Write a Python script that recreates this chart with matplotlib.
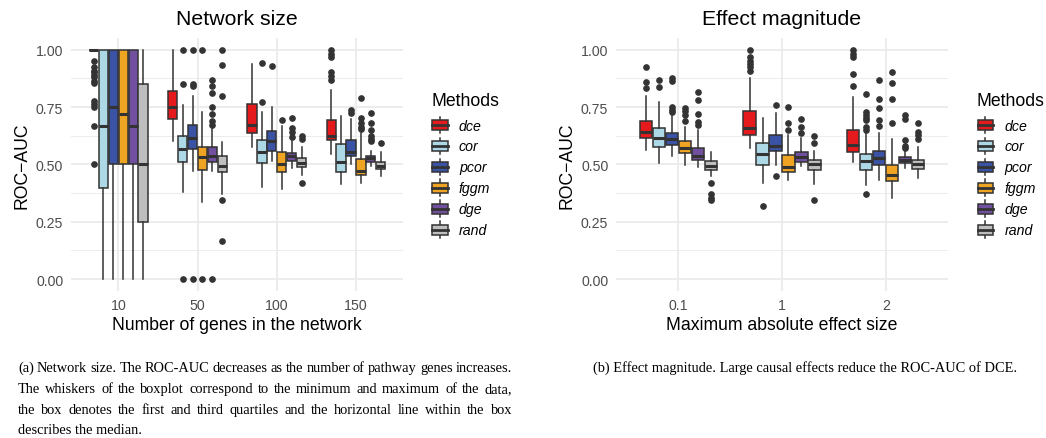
import matplotlib
matplotlib.use('Agg')
import matplotlib.pyplot as plt
from matplotlib.patches import Patch, Rectangle
from matplotlib.lines import Line2D
from matplotlib.legend_handler import HandlerBase

plt.rcParams['font.family'] = ['Liberation Sans', 'DejaVu Sans']

methods = ['dce', 'cor', 'pcor', 'fggm', 'dge', 'rand']
colors = ['#E41A1C', '#ADD8E6', '#3A53A4', '#EFA523', '#7150A0', '#BEBEBE']

# network size panel: (whislo, q1, median, q3, whishi) per group
size_groups = ['10', '50', '100', '150']
size_boxes = {
    'dce':  [(1.0, 1.0, 1.0, 1.0, 1.0), (0.603, 0.698, 0.749, 0.821, 1.0),
             (0.574, 0.635, 0.672, 0.763, 0.938), (0.545, 0.608, 0.625, 0.693, 0.826)],
    'cor':  [(0.0, 0.396, 0.666, 1.0, 1.0), (0.381, 0.509, 0.567, 0.622, 0.759),
             (0.40, 0.506, 0.552, 0.608, 0.73), (0.414, 0.465, 0.509, 0.589, 0.712)],
    'pcor': [(0.0, 0.5, 0.75, 1.0, 1.0), (0.47, 0.567, 0.615, 0.672, 0.80),
             (0.516, 0.56, 0.603, 0.647, 0.749), (0.501, 0.538, 0.555, 0.608, 0.698)],
    'fggm': [(0.0, 0.5, 0.718, 1.0, 1.0), (0.337, 0.475, 0.531, 0.574, 0.727),
             (0.392, 0.465, 0.501, 0.552, 0.666), (0.42, 0.454, 0.472, 0.523, 0.635)],
    'dge':  [(0.0, 0.5, 0.666, 1.0, 1.0), (0.472, 0.512, 0.538, 0.574, 0.657),
             (0.484, 0.516, 0.535, 0.549, 0.603), (0.491, 0.509, 0.528, 0.535, 0.56)],
    'rand': [(0.0, 0.25, 0.5, 0.85, 1.0), (0.371, 0.468, 0.491, 0.535, 0.599),
             (0.455, 0.487, 0.506, 0.526, 0.574), (0.448, 0.48, 0.494, 0.512, 0.552)],
}
size_fliers = {
    'dce':  [[0.95, 0.923, 0.909, 0.901, 0.89, 0.88, 0.865, 0.853, 0.778, 0.763, 0.749, 0.666, 0.5],
             [], [], [1.0, 0.981, 0.967, 0.901, 0.887, 0.869]],
    'cor':  [[], [1.0, 0.85, 0.0], [0.94, 0.771], []],
    'pcor': [[], [1.0, 0.85, 0.84, 0.0], [0.93], [0.738, 0.724]],
    'fggm': [[], [1.0, 0.0], [0.695], [0.788, 0.70, 0.68, 0.665, 0.655]],
    'dge':  [[], [0.869, 0.84, 0.811, 0.752, 0.72, 0.69, 0.672, 0.0],
             [0.702, 0.657, 0.642, 0.618], [0.722, 0.68, 0.651, 0.625, 0.61, 0.60]],
    'rand': [[], [1.0, 0.933, 0.80, 0.345, 0.166], [0.622, 0.61, 0.42], [0.592]],
}

# effect magnitude panel
effect_groups = ['0.1', '1', '2']
effect_boxes = {
    'dce':  [(0.564, 0.614, 0.642, 0.688, 0.797), (0.570, 0.629, 0.657, 0.734, 0.875),
             (0.509, 0.555, 0.584, 0.651, 0.795)],
    'cor':  [(0.505, 0.577, 0.614, 0.657, 0.771), (0.417, 0.497, 0.545, 0.592, 0.70),
             (0.411, 0.477, 0.516, 0.545, 0.637)],
    'pcor': [(0.535, 0.584, 0.611, 0.637, 0.72), (0.498, 0.56, 0.581, 0.628, 0.724),
             (0.433, 0.497, 0.526, 0.56, 0.635)],
    'fggm': [(0.498, 0.548, 0.571, 0.60, 0.661), (0.433, 0.468, 0.487, 0.541, 0.628),
             (0.352, 0.429, 0.454, 0.498, 0.611)],
    'dge':  [(0.49, 0.52, 0.535, 0.571, 0.651), (0.491, 0.509, 0.531, 0.552, 0.615),
             (0.483, 0.505, 0.52, 0.531, 0.56)],
    'rand': [(0.448, 0.475, 0.494, 0.513, 0.552), (0.414, 0.477, 0.501, 0.52, 0.56),
             (0.439, 0.48, 0.501, 0.52, 0.574)],
}
effect_fliers = {
    'dce':  [[0.923, 0.861, 0.833], [1.0, 0.967, 0.952, 0.938, 0.923, 0.906],
             [1.0, 0.981, 0.967, 0.894, 0.843]],
    'cor':  [[0.868, 0.839], [0.32], [0.807, 0.727, 0.715, 0.70, 0.693, 0.661, 0.651, 0.371]],
    'pcor': [[0.875, 0.865, 0.75, 0.735, 0.73], [0.76, 0.448], [0.869, 0.785, 0.744, 0.695, 0.669]],
    'fggm': [[0.746, 0.731, 0.715, 0.69], [0.751, 0.679, 0.651], [0.904, 0.855, 0.785, 0.68]],
    'dge':  [[0.814, 0.782, 0.72, 0.683, 0.672], [0.698, 0.664, 0.637],
             [0.715, 0.698, 0.608, 0.581, 0.571]],
    'rand': [[0.417, 0.37, 0.355, 0.345], [0.625, 0.593, 0.345], [0.679, 0.64, 0.628, 0.611]],
}

caption_a = [
    "(a) Network size. The ROC-AUC decreases as the number of pathway genes increases.",
    "The whiskers of the boxplot correspond to the minimum and maximum of the data,",
    "the box denotes the first and third quartiles and the horizontal line within the box",
    "describes the median.",
]
caption_b = "(b) Effect magnitude. Large causal effects reduce the ROC-AUC of DCE."

EDGE = '#333333'
GRID = '#EBEBEB'
W, H = 1046, 439


class BoxKey(HandlerBase):
    # ggplot-like boxplot legend key, sized from the key width
    def create_artists(self, legend, orig, xd, yd, w, h, fs, trans):
        x0, y0 = -xd, -yd
        yc = y0 + h / 2
        fc = orig.get_facecolor()
        lo = Line2D([x0 + w / 2] * 2, [yc - 0.4 * w, yc - 0.25 * w], color=EDGE, lw=1.1, transform=trans)
        hi = Line2D([x0 + w / 2] * 2, [yc + 0.25 * w, yc + 0.4 * w], color=EDGE, lw=1.1, transform=trans)
        box = Rectangle((x0 + 0.125 * w, yc - 0.25 * w), 0.75 * w, 0.5 * w,
                        facecolor=fc, edgecolor=EDGE, lw=1.1, transform=trans)
        med = Line2D([x0 + 0.125 * w, x0 + 0.875 * w], [yc] * 2,
                     color=EDGE, lw=2.0, transform=trans)
        return [lo, hi, box, med]


def draw_panel(ax, groups, boxes, fliers, title, xlabel):
    n = len(groups)
    for i, m in enumerate(methods):
        stats = []
        for g in range(n):
            lo, q1, med, q3, hi = boxes[m][g]
            stats.append(dict(whislo=lo, q1=q1, med=med, q3=q3, whishi=hi, fliers=fliers[m][g]))
        pos = [g + 1 + (i - 2.5) * 0.125 for g in range(n)]
        ax.bxp(stats, positions=pos, widths=0.118, patch_artist=True, showcaps=False,
               boxprops=dict(facecolor=colors[i], edgecolor=EDGE, linewidth=1.1),
               whiskerprops=dict(color=EDGE, linewidth=1.1),
               medianprops=dict(color=EDGE, linewidth=2.2),
               flierprops=dict(marker='o', markerfacecolor=EDGE, markeredgecolor=EDGE,
                               markersize=3.8, linestyle='none'),
               manage_ticks=False)
    ax.set_xlim(0.4, n + 0.6)
    ax.set_ylim(-0.05, 1.05)
    ax.set_xticks(range(1, n + 1), groups)
    ax.set_yticks([0, 0.25, 0.5, 0.75, 1.0], ['0.00', '0.25', '0.50', '0.75', '1.00'])
    ax.set_yticks([0.125, 0.375, 0.625, 0.875], minor=True)
    ax.grid(which='major', color=GRID, lw=1.3)
    ax.grid(which='minor', axis='y', color=GRID, lw=0.65)
    ax.set_axisbelow(True)
    for s in ax.spines.values():
        s.set_visible(False)
    ax.tick_params(which='both', length=0, labelsize=10.2, labelcolor='#4D4D4D', pad=5.5)
    ax.set_title(title, fontsize=15.3, pad=10)
    ax.set_xlabel(xlabel, fontsize=12.7, labelpad=3)
    ax.set_ylabel('ROC\u2212AUC', fontsize=12.7, labelpad=4)


def add_legend(x, y_title, y_keys):
    fig.text(x / W, 1 - y_title / H, 'Methods', fontsize=12.7, va='baseline')
    handles = [Patch(facecolor=c, label=m) for m, c in zip(methods, colors)]
    fig.legend(handles=handles, loc='upper left',
               bbox_to_anchor=((x - 2) / W, 1 - y_keys / H), frameon=False,
               handler_map={Patch: BoxKey()}, handlelength=1.48, handleheight=1.9,
               labelspacing=0, handletextpad=0.6, borderpad=0, borderaxespad=0,
               prop=dict(style='italic', size=10.2))


fig = plt.figure(figsize=(W / 100, H / 100), dpi=100)
ax1 = fig.add_axes([70.8 / W, 1 - 291.5 / H, 332.7 / W, 252.3 / H])
ax2 = fig.add_axes([616 / W, 1 - 291.5 / H, 332 / W, 252.3 / H])

draw_panel(ax1, size_groups, size_boxes, size_fliers, 'Network size', 'Number of genes in the network')
draw_panel(ax2, effect_groups, effect_boxes, effect_fliers, 'Effect magnitude', 'Maximum absolute effect size')
add_legend(431.5, 106, 115.5)
add_legend(977, 106, 115.5)

# captions (serif, first lines justified)
CAP_FS = 10.4
CAP_FONT = 'Liberation Serif'
fig.canvas.draw()
renderer = fig.canvas.get_renderer()


def caption_line(text, x0, x1, y, justify=True):
    if not justify:
        fig.text(x0 / W, 1 - y / H, text, fontsize=CAP_FS, family=CAP_FONT, va='baseline')
        return
    words = text.split()
    arts = [fig.text(0, 1 - y / H, w, fontsize=CAP_FS, family=CAP_FONT, va='baseline') for w in words]
    widths = [a.get_window_extent(renderer).width for a in arts]
    gap = (x1 - x0 - sum(widths)) / (len(words) - 1)
    x = x0
    for a, wd in zip(arts, widths):
        a.set_x(x / W)
        x += wd + gap


for k, line in enumerate(caption_a):
    caption_line(line, 18, 512, 372 + k * 20.8, justify=k < len(caption_a) - 1)

fig.text(805 / W, 1 - 372 / H, caption_b, fontsize=CAP_FS, family=CAP_FONT, va='baseline', ha='center')

fig.savefig('out.png', dpi=100)
